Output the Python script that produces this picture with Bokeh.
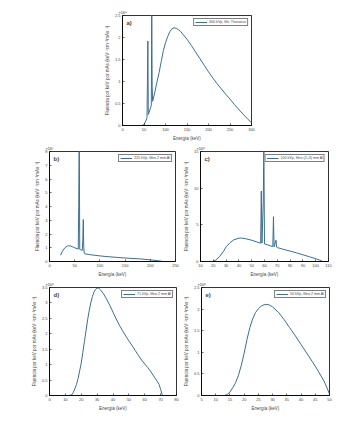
from bokeh.plotting import figure
from bokeh.layouts import column, row
from bokeh.models import Range1d, FixedTicker, PrintfTickFormatter, Label, Title
from bokeh.embed import file_html
from bokeh.resources import INLINE

# ---------------- data (fluence in units of the axis multiplier) ----------------
# a) 300 kVp  (x 1e8)
a_energy = [0, 40, 45, 50, 55, 57, 58, 59, 60, 62, 65, 67, 68, 69, 70, 75, 80, 85, 90, 95,
            100, 105, 110, 115, 120, 125, 130, 135, 140, 150, 160, 170, 180, 190, 200,
            210, 220, 230, 240, 250, 260, 270, 280, 290, 300]
a_fluence = [0, 0, 0.0, 0.02, 0.12, 0.18, 1.0, 1.92, 0.25, 0.3, 0.4, 0.45, 2.6, 0.9, 0.55,
             0.75, 0.98, 1.2, 1.45, 1.7, 1.88, 2.02, 2.13, 2.2, 2.22, 2.21, 2.18, 2.14,
             2.08, 1.96, 1.82, 1.67, 1.52, 1.37, 1.22, 1.08, 0.95, 0.83, 0.71, 0.6, 0.48,
             0.37, 0.26, 0.16, 0.06]

# b) 225 kVp  (x 1e7)
b_energy = [22, 25, 30, 35, 38, 40, 45, 50, 55, 57, 58, 59, 60, 62, 65, 66, 67, 68, 69, 70,
            80, 90, 100, 110, 120, 140, 160, 180, 200, 215, 225]
b_fluence = [0.45, 0.7, 0.98, 1.12, 1.15, 1.14, 1.08, 1.0, 0.93, 0.9, 4.0, 9.5, 0.88, 0.85,
             0.8, 1.5, 3.05, 1.0, 0.6, 0.56, 0.5, 0.45, 0.41, 0.37, 0.34, 0.28, 0.23, 0.19,
             0.12, 0.06, 0.0]

# c) 100 kVp  (x 1e6)
c_energy = [10, 15, 19, 20, 22, 25, 28, 30, 33, 36, 40, 42, 45, 50, 55, 57, 57.5, 58, 59,
            59.5, 60, 62, 65, 66.5, 67, 67.5, 69, 69.5, 70, 75, 80, 85, 90, 95, 100, 103, 105]
c_fluence = [0, 0, 0, 0.02, 0.2, 0.7, 1.4, 2.0, 2.55, 2.95, 3.18, 3.2, 3.12, 2.9, 2.6, 2.5,
             9.6, 2.5, 8.0, 15.5, 2.4, 2.3, 2.1, 2.05, 6.1, 2.0, 2.9, 1.95, 1.9, 1.65, 1.42,
             1.18, 0.92, 0.65, 0.38, 0.2, 0.05]

# d) 71 kVp  (x 1e6)
d_energy = [10, 12, 14, 15, 16, 17, 18, 19, 20, 21, 22, 23, 24, 25, 26, 27, 28, 29, 30, 31,
            32, 34, 36, 38, 40, 42, 44, 46, 48, 50, 52, 54, 56, 58, 60, 62, 64, 66, 68, 69,
            70, 71]
d_fluence = [0, 0, 0.02, 0.1, 0.22, 0.36, 0.55, 0.8, 1.05, 1.4, 1.75, 2.1, 2.45, 2.75, 3.0,
             3.2, 3.35, 3.44, 3.48, 3.48, 3.43, 3.3, 3.12, 2.92, 2.7, 2.48, 2.28, 2.1, 1.93,
             1.77, 1.62, 1.46, 1.3, 1.15, 1.02, 0.9, 0.76, 0.6, 0.45, 0.36, 0.2, 0.02]

# e) 50 kVp  (x 1e6)
e_energy = [5, 10, 13, 14, 15, 16, 17, 18, 19, 20, 21, 22, 23, 24, 25, 26, 27, 28, 29, 30,
            32, 34, 36, 38, 40, 42, 44, 46, 48, 49, 50]
e_fluence = [0, 0, 0, 0.02, 0.08, 0.18, 0.3, 0.47, 0.7, 0.98, 1.3, 1.57, 1.78, 1.92, 2.01,
             2.07, 2.1, 2.11, 2.09, 2.05, 1.93, 1.76, 1.57, 1.38, 1.18, 0.98, 0.78, 0.57,
             0.34, 0.2, 0.03]

legend_labels = ["300 kVp, filtr. Thoraeus", "225 kVp, filtro 2 mm Al",
                 "100 kVp, filtro (2+3) mm Al", "71 kVp, filtro 2 mm Al",
                 "50 kVp, filtro 2 mm Al"]
panel_letters = ["a)", "b)", "c)", "d)", "e)"]
multipliers = ["×10⁸", "×10⁷", "×10⁶", "×10⁶", "×10⁶"]
x_label = "Energía (keV)"
y_label = "Fluencia por keV por mAs (keV⁻¹cm⁻²mAs⁻¹)"

FONT = "Liberation Sans"
LINE = "#3c6f8f"


def panel(x, y, xr, yr, xt, yt, mult, letter, leg, width, height, bl, br, bt, bb):
    p = figure(width=width, height=height, output_backend="svg", toolbar_location=None,
               x_range=Range1d(*xr), y_range=Range1d(*yr),
               min_border_left=bl, min_border_right=br, min_border_top=bt,
               min_border_bottom=bb)
    p.line(x, y, color=LINE, line_width=1, legend_label=leg)
    p.xgrid.visible = False
    p.ygrid.visible = False
    p.outline_line_color = "black"
    p.outline_line_width = 0.8
    p.background_fill_color = "white"
    for ax, ticks in ((p.xaxis[0], xt), (p.yaxis[0], yt)):
        ax.ticker = FixedTicker(ticks=ticks)
        ax.formatter = PrintfTickFormatter(format="%g")
        ax.major_tick_in = 2
        ax.major_tick_out = 0
        ax.minor_tick_in = 0
        ax.minor_tick_out = 0
        ax.axis_line_color = "black"
        ax.axis_line_width = 0.8
        ax.major_tick_line_width = 0.6
        ax.major_label_text_font = FONT
        ax.major_label_text_font_size = "4px"
        ax.major_label_standoff = 2
        ax.axis_label_text_font = FONT
        ax.axis_label_text_font_style = "normal"
        ax.axis_label_standoff = 2
    p.xaxis.axis_label = x_label
    p.xaxis.axis_label_text_font_size = "4.5px"
    p.yaxis.axis_label = y_label
    p.yaxis.axis_label_text_font_size = "4.5px"

    p.add_layout(Title(text=mult, align="left", offset=-4, standoff=1,
                       text_font=FONT, text_font_size="4px", text_font_style="normal",
                       text_color="#222222"), "above")
    p.add_layout(Label(x=xr[0], y=yr[1], x_offset=4, y_offset=-4, text=letter,
                       text_font=FONT, text_font_size="6px",
                       text_font_style="bold", text_baseline="top", text_align="left"))

    lg = p.legend[0]
    lg.location = "top_right"
    lg.label_text_font = FONT
    lg.label_text_font_size = "3.6px"
    lg.label_height = 4
    lg.glyph_height = 4
    lg.glyph_width = 12
    lg.label_standoff = 2
    lg.padding = 1
    lg.spacing = 0
    lg.margin = 3
    lg.border_line_color = "black"
    lg.border_line_width = 0.5
    lg.background_fill_alpha = 1
    return p


pa = panel(a_energy, a_fluence, (0, 300), (0, 2.5), list(range(0, 301, 50)),
           [0, 0.5, 1, 1.5, 2, 2.5], multipliers[0], panel_letters[0], legend_labels[0],
           261, 143, 122, 10, 15, 17)
pb = panel(b_energy, b_fluence, (0, 250), (0, 8), list(range(0, 251, 50)),
           list(range(0, 9)), multipliers[1], panel_letters[1], legend_labels[1],
           180, 136, 49, 5, 8, 18)
pc = panel(c_energy, c_fluence, (10, 110), (0, 15), list(range(10, 111, 10)),
           [0, 5, 10, 15], multipliers[2], panel_letters[2], legend_labels[2],
           156, 136, 20, 8, 8, 18)
pd = panel(d_energy, d_fluence, (0, 80), (0, 3.5), list(range(0, 81, 10)),
           [0, 0.5, 1, 1.5, 2, 2.5, 3, 3.5], multipliers[3], panel_letters[3],
           legend_labels[3], 180, 134, 49, 4, 6, 18)
pe = panel(e_energy, e_fluence, (5, 50), (0, 2.5), list(range(5, 51, 5)),
           [0, 0.5, 1, 1.5, 2, 2.5], multipliers[4], panel_letters[4], legend_labels[4],
           157, 134, 21, 8, 6, 18)

layout = column(pa, row(pb, pc), row(pd, pe))
open("out.html", "w").write(file_html(layout, INLINE))
